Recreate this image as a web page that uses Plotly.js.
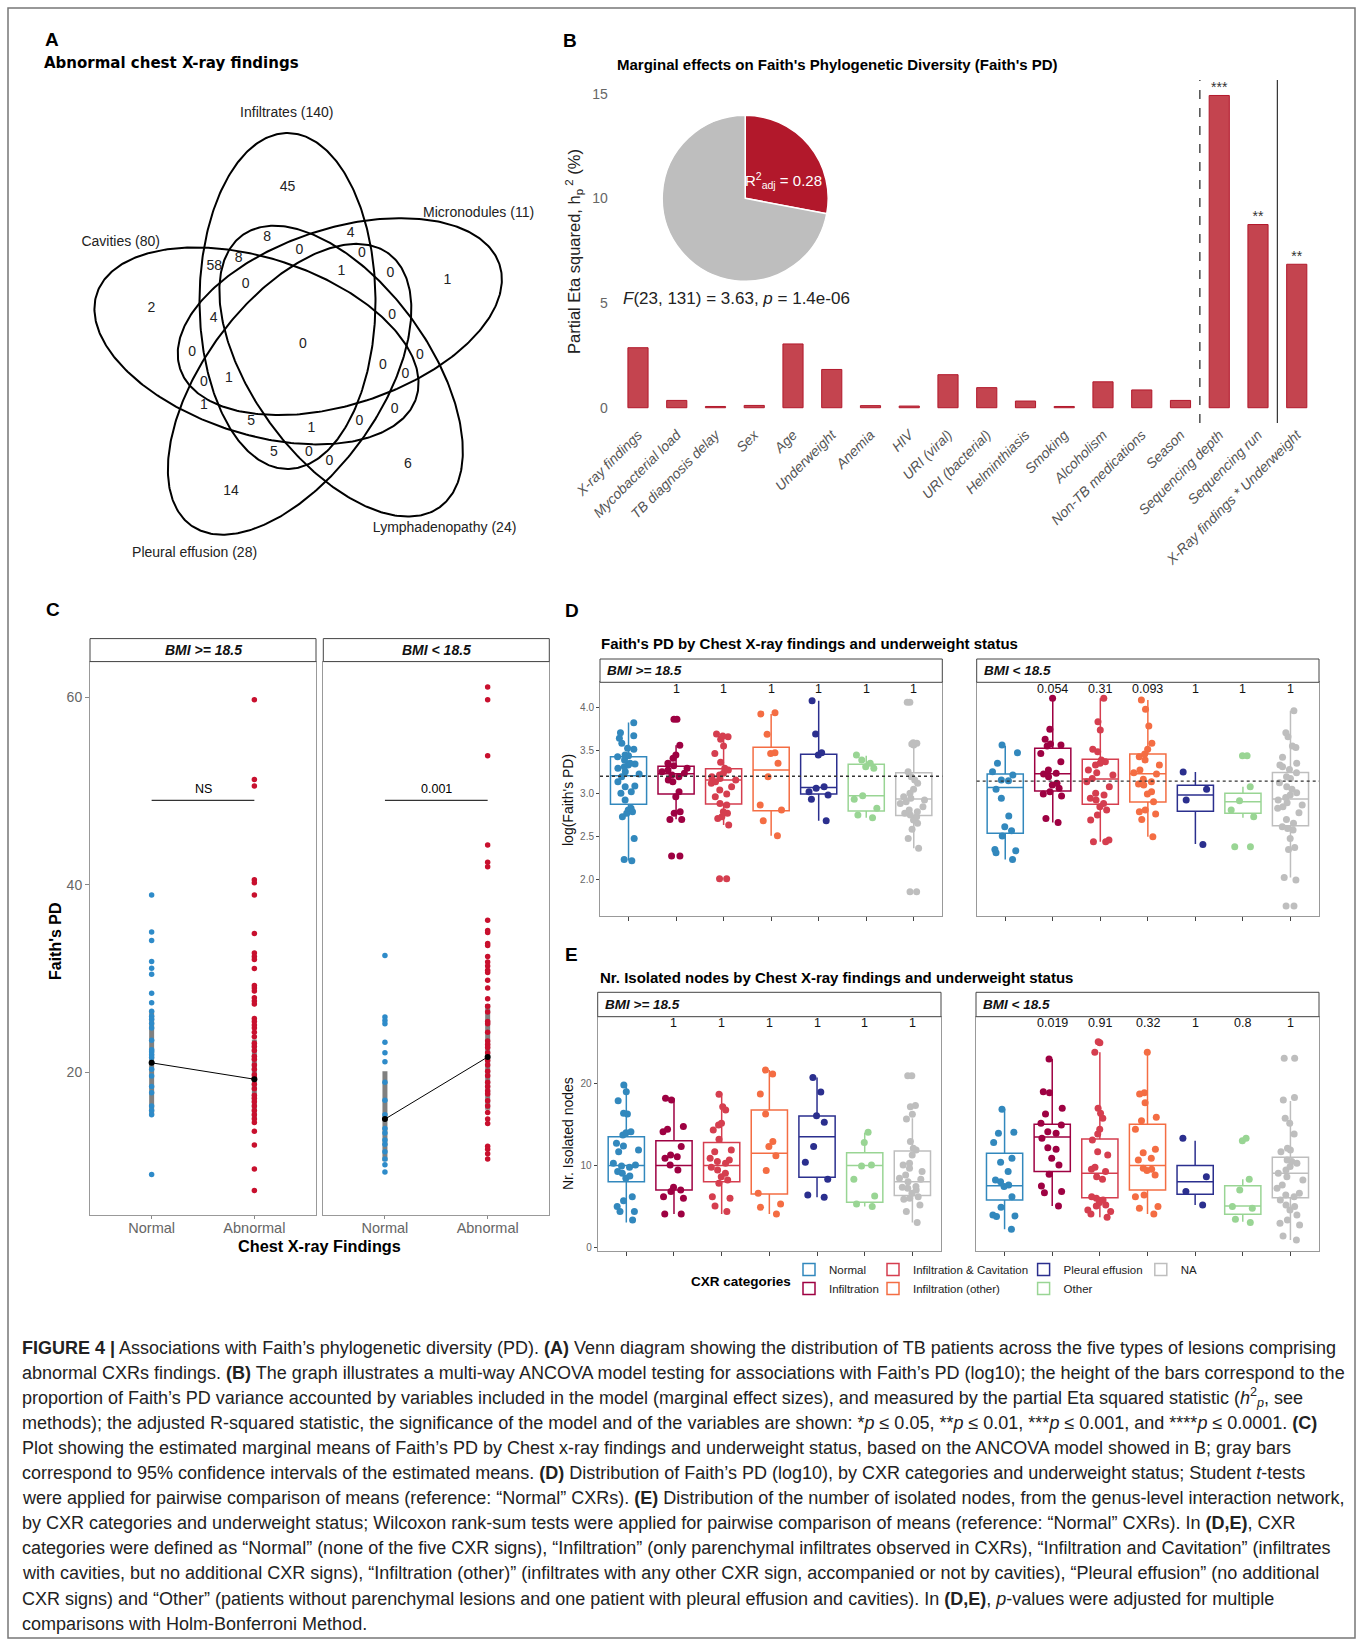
<!DOCTYPE html>
<html><head><meta charset="utf-8">
<script src="https://cdn.plot.ly/plotly-3.0.1.min.js"></script>
<style>body{margin:0;background:#fff}#plot{width:1360px;height:1642px}</style>
</head><body><div id="plot"></div>
<script>
// ================= DATA =================
// Panel A – Venn diagram
const vennSetNames = ['Infiltrates (140)','Micronodules (11)','Lymphadenopathy (24)','Pleural effusion (28)','Cavities (80)'];
const vennRegionCounts = [45,8,4,0,0,58,8,1,0,1,2,0,0,4,0,0,0,0,0,1,0,1,0,5,1,0,5,0,0,6,14];

// Panel B – partial eta squared
const bCategories = ['X-ray findings','Mycobacterial load','TB diagnosis delay','Sex','Age','Underweight','Anemia','HIV','URI (viral)','URI (bacterial)','Helminthiasis','Smoking','Alcoholism','Non-TB medications','Season','Sequencing depth','Sequencing run','X-Ray findings * Underweight'];
const bEtaSq = [2.87,0.35,0.06,0.11,3.05,1.83,0.10,0.08,1.58,0.96,0.32,0.06,1.24,0.85,0.35,14.93,8.76,6.86];
const bSignif = ['','','','','','','','','','','','','','','','***','**','**'];
const bR2adj = 0.28;

// Panel C – Faith's PD by CXR and BMI
const cXCats = ['Normal','Abnormal'];
const cHighNormal = [38.93,34.96,34.07,31.81,31.11,30.46,28.43,27.41,26.5,25.97,25.65,25.2,24.72,23.4,22.4,22.18,21.85,21.57,21.01,20.32,19.6,18.47,17.8,16.39,15.92,15.46,9.07];
const cHighAbnormal = [59.77,51.26,50.56,40.56,40.23,38.93,34.82,32.73,32.36,32.04,31.06,29.26,28.98,28.66,27.96,27.59,27.27,25.74,25.41,25.04,24.72,24.26,23.79,23.10,22.73,22.32,21.71,21.39,20.78,20.32,19.72,19.39,18.70,18.24,17.54,17.22,16.85,16.39,15.92,15.46,14.99,14.63,13.70,12.22,9.67,7.36];
const cLowNormal = [32.45,25.88,25.51,25.18,23.19,22.08,21.11,18.93,17.0,15.46,14.0,13.5,12.77,12.31,11.5,10.73,10.13,9.34];
const cLowAbnormal = [61.12,59.77,53.80,44.26,42.41,41.94,36.21,35.14,34.91,33.75,33.52,32.36,31.76,31.34,30.88,30.65,29.81,28.98,27.83,27.04,26.44,25.41,25.18,24.26,23.33,22.96,22.64,22.08,21.25,20.78,20.09,19.63,18.93,18.47,18.00,17.68,16.95,16.39,15.70,14.99,14.53,12.08,11.76,11.29,10.73];
const cHighMeans = [21.0, 19.25];
const cLowMeans = [14.99, 21.62];
const cHighCILow = [15.5, 15.0], cHighCIHigh = [26.5, 23.5];
const cLowCILow = [10.5, 16.0], cLowCIHigh = [20.09, 27.27];
const cTestLabels = ['NS', '0.001'];
const cBracketValue = 49.03;

// Panels D/E – CXR categories
const dCats = ['Normal','Infiltration','Infiltration & Cavitation','Infiltration (other)','Pleural effusion','Other','NA'];
// D, BMI >= 18.5  (log Faith's PD)
const dHighQ1  = [2.875,2.995,2.879,2.801,2.995,2.797,2.746];
const dHighMed = [3.21,3.233,3.159,3.276,3.073,2.976,2.937];
const dHighQ3  = [3.43,3.32,3.291,3.541,3.459,3.342,3.245];
const dHighLo  = [2.22,2.70,2.633,2.509,2.684,2.719,2.361];
const dHighHi  = [3.83,3.564,3.665,3.930,4.086,3.443,3.595];
const dHighP   = ['','1','1','1','1','1','1'];
const dHighRef = 3.203;
const dHighPoints = [
 [3.829,3.712,3.677,3.646,3.587,3.529,3.517,3.451,3.443,3.431,3.393,3.354,3.346,3.334,3.315,3.295,3.256,3.229,3.198,3.139,3.089,3.081,3.023,3.003,2.925,2.828,2.808,2.789,2.770,2.731,2.477,2.232,2.217],
 [3.868,3.868,3.564,3.451,3.412,3.354,3.326,3.295,3.276,3.256,3.237,3.217,3.198,3.159,3.139,3.023,2.964,2.789,2.770,2.699,2.699,2.271,2.271],
 [3.696,3.673,3.665,3.634,3.556,3.470,3.365,3.295,3.276,3.237,3.217,3.198,3.178,3.159,3.139,3.120,3.081,3.042,2.995,2.964,2.886,2.867,2.789,2.770,2.731,2.711,2.633,2.006,2.006],
 [3.945,3.930,3.692,3.478,3.470,3.354,3.198,2.867,2.808,2.684,2.509],
 [4.086,3.696,3.478,3.451,3.081,3.062,3.023,2.984,2.933,2.684],
 [3.451,3.393,3.354,3.315,3.295,2.976,2.933,2.828,2.750,2.719],
 [4.066,4.066,3.595,3.587,3.579,3.568,3.256,3.198,3.159,3.120,3.050,3.003,2.964,2.945,2.925,2.906,2.886,2.847,2.808,2.789,2.770,2.750,2.731,2.692,2.653,2.583,2.477,2.361,1.854,1.854]
];
// D, BMI < 18.5
const dLowQ1  = [2.536,3.030,2.875,2.902,2.793,2.770,2.625];
const dLowMed = [3.073,3.233,3.171,3.233,2.984,2.906,2.937];
const dLowQ3  = [3.229,3.529,3.400,3.463,3.097,3.003,3.248];
const dLowLo  = [2.232,2.664,2.439,2.497,2.411,2.719,2.022];
const dLowHi  = [3.560,4.113,4.113,4.093,3.252,3.081,3.969];
const dLowP   = ['','0.054','0.31','0.093','1','1','1'];
const dLowRef = 3.147;
const dLowPoints = [
 [3.568,3.478,3.354,3.256,3.217,3.159,3.151,3.050,2.945,2.738,2.614,2.567,2.505,2.349,2.333,2.310,2.232],
 [4.113,3.751,3.634,3.579,3.568,3.556,3.470,3.373,3.276,3.237,3.229,3.198,3.120,3.100,3.062,3.023,2.995,2.972,2.711,2.664],
 [4.113,3.840,3.743,3.517,3.490,3.393,3.373,3.354,3.334,3.276,3.245,3.217,3.178,3.139,3.081,3.003,2.984,2.945,2.925,2.886,2.847,2.808,2.750,2.692,2.458,2.439,2.439],
 [4.093,3.984,3.790,3.587,3.517,3.463,3.431,3.393,3.334,3.276,3.245,3.229,3.167,3.139,3.112,3.100,3.023,2.995,2.906,2.808,2.789,2.762,2.699,2.497],
 [3.252,3.050,2.925,2.407],
 [3.443,3.443,3.081,2.917,2.808,2.731,2.380,2.380],
 [3.969,3.712,3.665,3.556,3.540,3.424,3.354,3.334,3.315,3.283,3.245,3.198,3.178,3.128,3.081,3.050,3.011,2.984,2.956,2.925,2.894,2.867,2.847,2.828,2.777,2.699,2.653,2.614,2.594,2.575,2.477,2.372,2.349,2.022,1.991,1.687,1.687]
];
// E, BMI >= 18.5 (Nr. isolated nodes)
const eHighQ1  = [8.04,7.02,8.04,6.53,8.57,5.51,6.33];
const eHighMed = [10.0,10.0,10.0,11.51,13.55,10.0,8.04];
const eHighQ3  = [13.55,13.06,12.82,16.82,16.08,11.59,11.80];
const eHighLo  = [3.02,4.08,4.08,4.08,6.12,4.98,3.02];
const eHighHi  = [19.88,18.24,18.94,21.71,20.78,14.04,15.80];
const eHighP   = ['','1','1','1','1','1','1'];
const eHighPoints = [
 [19.88,19.06,17.96,16.41,16.33,14.16,14.04,13.76,12.73,12.41,11.92,11.71,10.29,10.08,9.96,9.80,9.27,9.06,8.73,8.45,6.20,5.71,4.98,4.37,4.37,3.35],
 [18.24,18.04,14.78,14.45,14.16,12.33,11.31,11.10,10.90,10.08,9.47,7.35,7.02,6.82,6.20,6.00,4.08,4.08],
 [18.73,17.22,16.82,15.18,14.98,14.37,13.22,11.92,11.71,10.90,10.69,10.49,10.29,9.80,9.47,9.06,8.65,8.24,7.84,6.20,6.00,5.06,4.37],
 [21.71,21.22,18.78,16.33,12.94,12.33,11.22,9.39,6.61,5.31,4.90,4.08],
 [20.78,19.02,16.12,15.31,12.33,10.41,8.33,6.41,6.12],
 [14.08,12.82,10.08,9.96,8.33,6.29,5.31,4.98],
 [21.02,21.02,17.35,17.22,16.29,15.71,12.94,12.12,11.92,11.31,10.29,10.08,9.67,9.27,8.86,8.45,8.33,8.04,7.43,7.35,7.22,7.02,6.61,6.20,6.00,5.88,5.18,4.37,3.02]
];
// E, BMI < 18.5
const eLowQ1  = [5.80,9.27,6.08,7.02,6.49,4.04,6.08];
const eLowMed = [7.55,13.51,9.06,10.0,8.04,5.06,9.06];
const eLowQ3  = [11.51,15.06,13.27,15.06,10.0,7.55,11.02];
const eLowLo  = [2.20,5.06,3.67,4.08,5.18,3.14,0.90];
const eLowHi  = [16.90,23.06,23.88,23.88,13.06,8.33,17.92];
const eLowP   = ['','0.019','0.91','0.32','1','0.8','1'];
const eLowPoints = [
 [16.90,14.08,13.96,12.82,10.90,10.41,9.27,8.24,8.04,7.63,7.43,6.20,4.90,3.96,3.84,3.76,2.20],
 [23.06,19.06,18.94,17.02,16.33,15.18,14.98,14.16,13.96,13.35,12.20,12.00,10.90,10.08,8.94,7.51,6.82,6.69,5.06],
 [25.18,25.06,23.88,17.02,16.41,15.80,14.45,13.88,13.14,11.71,11.31,9.80,9.55,9.27,8.65,8.33,6.20,6.00,5.80,5.47,5.18,5.06,4.57,4.37,4.08,3.67],
 [23.88,18.94,18.78,17.71,15.92,15.51,14.45,12.00,11.59,10.90,10.69,9.67,9.55,9.39,8.86,6.41,6.20,4.98,4.78,4.08],
 [13.35,8.65,6.82,5.18],
 [13.35,13.06,8.33,7.02,4.98,4.78,3.43,3.02],
 [23.14,23.14,18.33,18.04,15.80,15.18,13.88,12.12,11.92,11.71,10.69,10.49,10.29,9.88,9.47,9.06,8.65,8.24,7.63,7.22,6.61,6.41,6.20,5.80,5.18,4.98,4.57,3.96,3.35,2.94,2.73,1.39,0.90]
];

const captionLines = [
 '<b>FIGURE 4 |</b> Associations with Faith’s phylogenetic diversity (PD). <b>(A)</b> Venn diagram showing the distribution of TB patients across the five types of lesions comprising',
 'abnormal CXRs findings. <b>(B)</b> The graph illustrates a multi-way ANCOVA model testing for associations with Faith’s PD (log10); the height of the bars correspond to the',
 'proportion of Faith’s PD variance accounted by variables included in the model (marginal effect sizes), and measured by the partial Eta squared statistic (<i>h</i><sup>2</sup><sub><i>p</i></sub>, see',
 'methods); the adjusted R-squared statistic, the significance of the model and of the variables are shown: *<i>p</i> ≤ 0.05, **<i>p</i> ≤ 0.01, ***<i>p</i> ≤ 0.001, and ****<i>p</i> ≤ 0.0001. <b>(C)</b>',
 'Plot showing the estimated marginal means of Faith’s PD by Chest x-ray findings and underweight status, based on the ANCOVA model showed in B; gray bars',
 'correspond to 95% confidence intervals of the estimated means. <b>(D)</b> Distribution of Faith’s PD (log10), by CXR categories and underweight status; Student <i>t</i>-tests',
 'were applied for pairwise comparison of means (reference: “Normal” CXRs). <b>(E)</b> Distribution of the number of isolated nodes, from the genus-level interaction network,',
 'by CXR categories and underweight status; Wilcoxon rank-sum tests were applied for pairwise comparison of means (reference: “Normal” CXRs). In <b>(D,E)</b>, CXR',
 'categories were defined as “Normal” (none of the five CXR signs), “Infiltration” (only parenchymal infiltrates observed in CXRs), “Infiltration and Cavitation” (infiltrates',
 'with cavities, but no additional CXR signs), “Infiltration (other)” (infiltrates with any other CXR sign, accompanied or not by cavities), “Pleural effusion” (no additional',
 'CXR signs) and “Other” (patients without parenchymal lesions and one patient with pleural effusion and cavities). In <b>(D,E)</b>, <i>p</i>-values were adjusted for multiple',
 'comparisons with Holm-Bonferroni Method.'
];

// ================= LAYOUT HELPERS =================
const W = 1360, H = 1642;
const px = v => v / W, py = v => 1 - v / H;
const FONT = 'Liberation Sans, Arial, Helvetica, sans-serif';
const NARROW = 'Liberation Sans Narrow, Arial Narrow, Liberation Sans, Arial, sans-serif';
const cxrColors = ['#3288BD','#9E0142','#D53E4F','#F46D43','#2B2F8E','#99D594','#BEBEBE'];
// legend column of each CXR category (column-major legend, 2 rows)
const legendIds = ['legend','legend','legend2','legend2','legend3','legend3','legend4'];
const legendColumnX = [789, 873, 1023.6, 1140.8];

const traces = [], shapes = [], annotations = [];
function ann(text, x, y, opts) {
  annotations.push(Object.assign({text: text, x: px(x), y: py(y), xref: 'paper', yref: 'paper', showarrow: false,
    xanchor: 'left', yanchor: 'middle', font: {family: FONT, size: 13, color: '#000'}}, opts || {}));
}

// ---------- Panel A : Venn ----------
const vennCountPos = [[287.5,187.9],[267.1,237.9],[350.7,233.8],[299.3,250.1],[361.8,253.8],[214.3,266.4],[238.6,258.2],[341.4,271.9],[390.4,273.8],[447.5,280.1],[151.4,308.2],[245.7,284.1],[392.1,315.2],[213.6,318.2],[302.9,344.8],[192.1,352.6],[420.0,355.9],[382.9,365.2],[405.4,374.8],[228.9,378.1],[203.9,382.9],[203.9,405.8],[394.6,409.9],[251.1,421.7],[311.4,428.0],[359.3,421.7],[273.9,452.1],[308.9,452.1],[329.3,461.7],[407.9,464.7],[231.1,491.3]];
const vennLabelPos = [[286.8,113.5],[478.6,213.8],[444.6,528.5],[194.6,553.5],[120.7,242.3]];
const vennCenter = [302.9, 344.8], vennOffset = [-15.4, -43.8], vennAxes = [88, 168];
vennSetNames.forEach(function (nm, k) {
  const th = k * 72 * Math.PI / 180, c = Math.cos(th), s = Math.sin(th);
  const cx = vennCenter[0] + vennOffset[0] * c - vennOffset[1] * s;
  const cy = vennCenter[1] + vennOffset[0] * s + vennOffset[1] * c;
  const xs = [], ys = [];
  for (let i = 0; i <= 360; i++) {
    const t = i / 360 * 2 * Math.PI, lx = vennAxes[0] * Math.cos(t), ly = vennAxes[1] * Math.sin(t);
    xs.push(cx + lx * c - ly * s); ys.push(cy + lx * s + ly * c);
  }
  traces.push({type: 'scatter', mode: 'lines', x: xs, y: ys, xaxis: 'x', yaxis: 'y', line: {color: '#000', width: 2},
    hoverinfo: 'skip', showlegend: false});
});
traces.push({type: 'scatter', mode: 'text', x: vennCountPos.map(p => p[0]), y: vennCountPos.map(p => p[1]),
  text: vennRegionCounts.map(String), textfont: {family: FONT, size: 14, color: '#222'}, xaxis: 'x', yaxis: 'y',
  hoverinfo: 'skip', showlegend: false, cliponaxis: false});
traces.push({type: 'scatter', mode: 'text', x: vennLabelPos.map(p => p[0]), y: vennLabelPos.map(p => p[1]),
  text: vennSetNames, textfont: {family: FONT, size: 14, color: '#222'}, xaxis: 'x', yaxis: 'y',
  hoverinfo: 'skip', showlegend: false, cliponaxis: false});

// ---------- Panel B ----------
traces.push({type: 'bar', x: bCategories, y: bEtaSq, xaxis: 'x2', yaxis: 'y2', width: 0.52,
  marker: {color: '#C4444F', line: {color: '#B2182B', width: 1}}, hoverinfo: 'skip', showlegend: false});
const sigIdx = bSignif.map((s, i) => s ? i : -1).filter(i => i >= 0);
traces.push({type: 'scatter', mode: 'text', x: sigIdx.map(i => bCategories[i]), y: sigIdx.map(i => bEtaSq[i]),
  text: sigIdx.map(i => bSignif[i]), textposition: 'top center',
  textfont: {family: FONT, size: 14, color: '#333'}, xaxis: 'x2', yaxis: 'y2', hoverinfo: 'skip', showlegend: false, cliponaxis: false});
traces.push({type: 'pie', values: [bR2adj, 1 - bR2adj], sort: false, direction: 'clockwise', rotation: 0,
  marker: {colors: ['#B2182B', '#BEBEBE'], line: {color: '#fff', width: 1.5}}, textinfo: 'none', hoverinfo: 'skip',
  showlegend: false, domain: {x: [px(745.2 - 83), px(745.2 + 83)], y: [py(198.3 + 83), py(198.3 - 83)]}});
shapes.push({type: 'line', xref: 'x2', yref: 'y2 domain', x0: 14.5, x1: 14.5, y0: 0, y1: 1, line: {color: '#222', width: 1.2, dash: 'dash'}});
shapes.push({type: 'line', xref: 'x2', yref: 'y2 domain', x0: 16.5, x1: 16.5, y0: 0, y1: 1, line: {color: '#333', width: 1.2}});

// ---------- Panel C ----------
function cPanel(xa, ya, normal, abnormal, means, ciLo, ciHi, label) {
  for (let i = 0; i < 2; i++) {
    traces.push({type: 'scatter', mode: 'lines', x: [cXCats[i], cXCats[i]], y: [ciLo[i], ciHi[i]], xaxis: xa, yaxis: ya,
      line: {color: '#808080', width: 5}, hoverinfo: 'skip', showlegend: false});
  }
  traces.push({type: 'scatter', mode: 'markers', x: normal.map(() => cXCats[0]), y: normal, xaxis: xa, yaxis: ya,
    marker: {color: '#2E8BC9', size: 5.5}, hoverinfo: 'skip', showlegend: false});
  traces.push({type: 'scatter', mode: 'markers', x: abnormal.map(() => cXCats[1]), y: abnormal, xaxis: xa, yaxis: ya,
    marker: {color: '#C8102E', size: 5.5}, hoverinfo: 'skip', showlegend: false});
  traces.push({type: 'scatter', mode: 'lines+markers', x: cXCats, y: means, xaxis: xa, yaxis: ya,
    line: {color: '#000', width: 1}, marker: {color: '#000', size: 6}, hoverinfo: 'skip', showlegend: false});
  shapes.push({type: 'line', xref: xa, yref: ya, x0: 0, x1: 1, y0: cBracketValue, y1: cBracketValue, line: {color: '#000', width: 1}});
  annotations.push({text: label, xref: xa, yref: ya, x: 0.5, y: cBracketValue, yanchor: 'bottom', yshift: 2, showarrow: false,
    font: {family: FONT, size: 12.5, color: '#000'}});
}
cPanel('x3', 'y3', cHighNormal, cHighAbnormal, cHighMeans, cHighCILow, cHighCIHigh, cTestLabels[0]);
cPanel('x4', 'y4', cLowNormal, cLowAbnormal, cLowMeans, cLowCILow, cLowCIHigh, cTestLabels[1]);

// ---------- Panels D / E ----------
function boxPanel(xa, ya, q1, med, q3, lo, hi, pts, pLabels, pLabelFrac, refLine, withLegend) {
  for (let i = 0; i < dCats.length; i++) {
    traces.push({type: 'box', orientation: 'v', x: [dCats[i]], q1: [q1[i]], median: [med[i]], q3: [q3[i]],
      lowerfence: [lo[i]], upperfence: [hi[i]], xaxis: xa, yaxis: ya, width: 0.76, whiskerwidth: 0,
      boxpoints: false, fillcolor: 'rgba(255,255,255,0)', line: {color: cxrColors[i], width: 1.5},
      name: dCats[i], legend: legendIds[i], showlegend: !!withLegend, hoverinfo: 'skip'});
    traces.push({type: 'box', orientation: 'v', x: pts[i].map(() => dCats[i]), y: pts[i], xaxis: xa, yaxis: ya,
      width: 0.76, boxpoints: 'all', jitter: 0.8, pointpos: 0, fillcolor: 'rgba(0,0,0,0)',
      line: {color: 'rgba(0,0,0,0)', width: 0}, marker: {color: cxrColors[i], size: 7, opacity: 1},
      showlegend: false, hoverinfo: 'skip'});
    if (pLabels[i]) {
      annotations.push({text: pLabels[i], xref: xa, yref: ya + ' domain', x: dCats[i], y: pLabelFrac, yanchor: 'middle',
        showarrow: false, font: {family: FONT, size: 12.5, color: '#111'}});
    }
  }
  if (refLine !== null) {
    shapes.push({type: 'line', xref: xa + ' domain', yref: ya, x0: 0, x1: 1, y0: refLine, y1: refLine,
      line: {color: '#333', width: 1.3, dash: 'dot'}});
  }
}
boxPanel('x5', 'y5', dHighQ1, dHighMed, dHighQ3, dHighLo, dHighHi, dHighPoints, dHighP, 0.970, dHighRef, false);
boxPanel('x6', 'y6', dLowQ1, dLowMed, dLowQ3, dLowLo, dLowHi, dLowPoints, dLowP, 0.970, dLowRef, false);
boxPanel('x7', 'y7', eHighQ1, eHighMed, eHighQ3, eHighLo, eHighHi, eHighPoints, eHighP, 0.974, null, true);
boxPanel('x8', 'y8', eLowQ1, eLowMed, eLowQ3, eLowLo, eLowHi, eLowPoints, eLowP, 0.974, null, false);

// strips
function strip(x0, x1, y0, y1, text, centered, size) {
  shapes.push({type: 'rect', xref: 'paper', yref: 'paper', x0: px(x0), x1: px(x1), y0: py(y1), y1: py(y0),
    fillcolor: '#fff', line: {color: '#444', width: 1}});
  const f = {family: FONT, size: size, color: '#111', weight: 'bold', style: 'italic'};
  if (centered) ann(text, (x0 + x1) / 2, (y0 + y1) / 2, {xanchor: 'center', font: f});
  else ann(text, x0 + 5, (y0 + y1) / 2, {font: f});
}
strip(90, 316, 638.6, 661.6, 'BMI &gt;= 18.5', true, 14);
strip(323.3, 549.3, 638.6, 661.6, 'BMI &lt; 18.5', true, 14);
strip(600, 942.3, 659, 682.3, 'BMI &gt;= 18.5', false, 13.5);
strip(976.7, 1319, 659, 682.3, 'BMI &lt; 18.5', false, 13.5);
strip(597.7, 941, 992.3, 1016.7, 'BMI &gt;= 18.5', false, 13.5);
strip(976, 1319, 992.3, 1016.7, 'BMI &lt; 18.5', false, 13.5);

// frame
shapes.push({type: 'rect', xref: 'paper', yref: 'paper', x0: px(8), x1: px(1355), y0: py(1638), y1: py(8), line: {color: '#777', width: 1.5}});

// text annotations
const bold = (s, f) => ({family: f || FONT, size: s, color: '#000', weight: 'bold'});
ann('A', 43, 39, {font: bold(19)});
ann('Abnormal chest X-ray findings', 42, 63, {font: bold(15, 'DejaVu Sans, Liberation Sans, sans-serif')});
ann('B', 561, 40, {font: bold(19)});
ann('Marginal effects on Faith\'s Phylogenetic Diversity (Faith\'s PD)', 615, 65, {font: bold(15)});
ann('Partial Eta squared, h<sub>p</sub><sup> 2</sup> (%)', 574, 252, {xanchor: 'center', textangle: -90, font: {family: FONT, size: 16.5, color: '#222'}});
ann('R<sup>2</sup><sub>adj</sub> = 0.28', 743, 180, {font: {family: NARROW, size: 15, color: '#fff'}});
ann('<i>F</i>(23, 131) = 3.63, <i>p</i> = 1.4e-06', 621, 299, {font: {family: NARROW, size: 17, color: '#222'}});
ann('C', 44, 609, {font: bold(19)});
ann('Faith\'s PD', 55, 941, {xanchor: 'center', textangle: -90, font: bold(16)});
ann('Chest X-ray Findings', 319.3, 1246, {xanchor: 'center', font: bold(16.3)});
ann('D', 563, 610, {font: bold(19)});
ann('Faith\'s PD by Chest X-ray findings and underweight status', 599, 643, {font: bold(15)});
ann('log(Faith\'s PD)', 568, 800, {xanchor: 'center', textangle: -90, font: {family: FONT, size: 14, color: '#111'}});
ann('E', 563, 954, {font: bold(19)});
ann('Nr. Isolated nodes by Chest X-ray findings and underweight status', 598, 977, {font: bold(15)});
ann('Nr. Isolated nodes', 568, 1134, {xanchor: 'center', textangle: -90, font: {family: FONT, size: 14, color: '#111'}});
ann('CXR categories', 741, 1281, {xanchor: 'center', font: bold(13.5)});
captionLines.forEach(function (t, i) {
  ann(t, 20, 1347.5 + i * 25.1, {font: {family: FONT, size: 18, color: '#222'}});
});

// ================= AXES =================
const hidden = {visible: false, fixedrange: true};
const panelAxisBase = {showline: true, mirror: true, linecolor: '#999', linewidth: 1, showgrid: false, zeroline: false, fixedrange: true};
const legendBase = {orientation: 'v', traceorder: 'normal', y: py(1255), xanchor: 'left', yanchor: 'top',
  font: {family: FONT, size: 11.5, color: '#222'}, bgcolor: 'rgba(0,0,0,0)', tracegroupgap: 0};
const layout = {
  width: W, height: H, margin: {l: 0, r: 0, t: 0, b: 0}, paper_bgcolor: '#fff', plot_bgcolor: 'rgba(0,0,0,0)',
  font: {family: FONT}, showlegend: true, boxmode: 'overlay',
  legend:  Object.assign({x: px(legendColumnX[0])}, legendBase),
  legend2: Object.assign({x: px(legendColumnX[1])}, legendBase),
  legend3: Object.assign({x: px(legendColumnX[2])}, legendBase),
  legend4: Object.assign({x: px(legendColumnX[3])}, legendBase),
  xaxis: Object.assign({domain: [0, px(560)], range: [0, 560]}, hidden),
  yaxis: Object.assign({domain: [py(580), py(80)], range: [580, 80]}, hidden),
  xaxis2: {domain: [px(614.75), px(1320)], anchor: 'y2', type: 'category', categoryorder: 'array', categoryarray: bCategories,
    range: [-0.6, 17.6], showline: false, showgrid: false, zeroline: false, ticks: '', tickangle: -45,
    tickfont: {family: FONT, size: 14, color: '#555', style: 'italic'}, fixedrange: true},
  yaxis2: {domain: [py(423), py(80)], anchor: 'x2', range: [-0.73, 15.67], tickvals: [0, 5, 10, 15], showline: false,
    showgrid: false, zeroline: false, ticks: '', ticklabelstandoff: 6, tickfont: {family: NARROW, size: 14, color: '#666'}, fixedrange: true},
  xaxis3: Object.assign({domain: [px(90), px(316)], anchor: 'y3', type: 'category', categoryorder: 'array', categoryarray: cXCats,
    range: [-0.6, 1.6], ticks: 'outside', ticklen: 3, tickcolor: '#888', ticklabelstandoff: -4, tickfont: {family: FONT, size: 14.5, color: '#666'}}, panelAxisBase),
  yaxis3: Object.assign({domain: [py(1215.3), py(661.6)], anchor: 'x3', range: [4.72, 63.84], tickvals: [20, 40, 60],
    ticks: 'outside', ticklen: 4, tickcolor: '#888', tickfont: {family: FONT, size: 14, color: '#666'}}, panelAxisBase),
  xaxis4: Object.assign({domain: [px(323.3), px(549.3)], anchor: 'y4', type: 'category', categoryorder: 'array', categoryarray: cXCats,
    range: [-0.6, 1.6], ticks: 'outside', ticklen: 3, tickcolor: '#888', ticklabelstandoff: -4, tickfont: {family: FONT, size: 14.5, color: '#666'}}, panelAxisBase),
  yaxis4: Object.assign({domain: [py(1215.3), py(661.6)], anchor: 'x4', range: [4.72, 63.84], showticklabels: false, ticks: ''}, panelAxisBase),
};
function dAxes(xn, yn, xd, yd, yr, yt, showY, fmt) {
  layout['xaxis' + xn] = Object.assign({domain: [px(xd[0]), px(xd[1])], anchor: 'y' + yn, type: 'category', categoryorder: 'array',
    categoryarray: dCats, range: [-0.6, 6.6], showticklabels: false, ticks: 'outside', ticklen: 4, tickcolor: '#444'}, panelAxisBase);
  layout['yaxis' + yn] = Object.assign({domain: [py(yd[1]), py(yd[0])], anchor: 'x' + xn, range: yr, tickvals: yt,
    tickformat: fmt, showticklabels: showY, ticks: showY ? 'outside' : '', ticklen: 3, tickcolor: '#444',
    tickfont: {family: FONT, size: 10, color: '#666'}}, panelAxisBase);
}
dAxes(5, 5, [600, 942.3], [682.3, 916], [1.571, 4.30], [2.0, 2.5, 3.0, 3.5, 4.0], true, '.1f');
dAxes(6, 6, [976.7, 1319], [682.3, 916], [1.571, 4.30], [2.0, 2.5, 3.0, 3.5, 4.0], false, '.1f');
dAxes(7, 7, [597.7, 941], [1016.7, 1250.7], [-0.42, 28.24], [0, 10, 20], true, 'd');
dAxes(8, 8, [976, 1319], [1016.7, 1250.7], [-0.42, 28.24], [0, 10, 20], false, 'd');
layout.shapes = shapes;
layout.annotations = annotations;

Plotly.newPlot('plot', traces, layout, {staticPlot: true});
</script>
</body></html>
